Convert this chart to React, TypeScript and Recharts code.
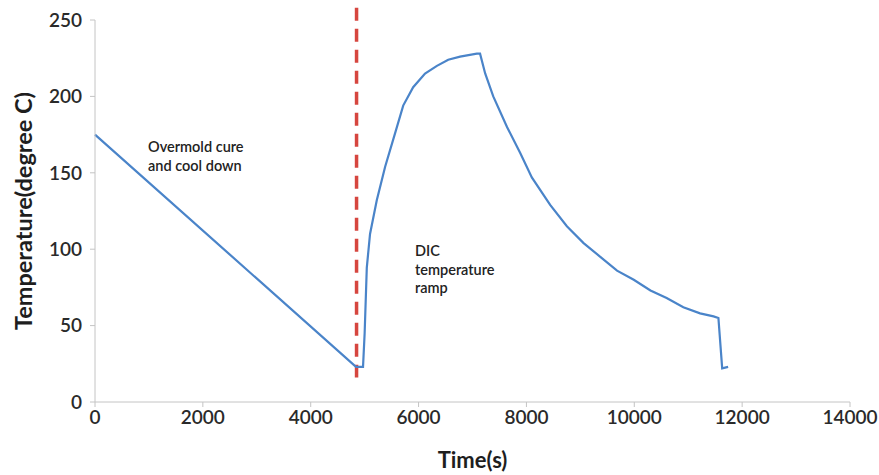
import { Line, LineChart, ReferenceLine, XAxis, YAxis, Label } from "recharts";

const timeS = [
  0, 4840, 4970, 5000, 5040, 5100, 5225, 5380, 5565, 5715, 5900, 6120, 6340, 6550, 6770, 7080, 7140,
  7235, 7385, 7640, 7885, 8100, 8440, 8750, 9060, 9370, 9680, 9990, 10300, 10600, 10910, 11220,
  11470, 11560, 11630, 11740,
];
const tempC = [
  175, 23, 23, 45, 88, 110, 132, 154, 176, 194, 206, 215, 220, 224, 226, 228, 228,
  215, 200, 180, 163, 147, 129, 115, 104, 95, 86, 80, 73, 68, 62, 58,
  56, 55, 22, 23,
];
const xTicks = [0, 2000, 4000, 6000, 8000, 10000, 12000, 14000];
const yTicks = [0, 50, 100, 150, 200, 250];
const dividerTime = 4850;

const data = timeS.map((t, i) => ({ t, temp: tempC[i] }));

const font = "Lato, 'Open Sans', sans-serif";
const tickStyle = { fontSize: 19, fontWeight: 600, fontFamily: font, fill: "#2a2a2a" };

export default function App() {
  return (
    <div style={{ position: "absolute", left: 0, top: 0, width: 879, height: 475, background: "#fff" }}>
      <LineChart width={879} height={475} data={data} margin={{ top: 20, right: 29, left: 0, bottom: 0 }}>
        <XAxis
          dataKey="t"
          type="number"
          domain={[0, 14000]}
          ticks={xTicks}
          height={73}
          tick={tickStyle}
          tickSize={5}
          tickMargin={4}
          stroke="#c4c4c4"
        >
          <Label value="Time(s)" position="insideBottom" offset={7} style={{ fontSize: 22, fontWeight: 700, fontFamily: font, fill: "#1e1e1e" }} />
        </XAxis>
        <YAxis
          type="number"
          domain={[0, 250]}
          ticks={yTicks}
          width={95}
          tick={tickStyle}
          tickSize={5}
          tickMargin={8}
          stroke="#c4c4c4"
        >
          <Label
            value="Temperature(degree C)"
            angle={-90}
            position="insideLeft"
            offset={24}
            style={{ textAnchor: "middle", fontSize: 23.5, fontWeight: 700, fontFamily: font, fill: "#1e1e1e" }}
          />
        </YAxis>
        <ReferenceLine
          segment={[{ x: dividerTime, y: 258 }, { x: dividerTime, y: 16 }]}
          stroke="#d6463f"
          strokeWidth={3.5}
          strokeDasharray="13 8"
          ifOverflow="visible"
        />
        <Line
          dataKey="temp"
          type="linear"
          stroke="#4a84c9"
          strokeWidth={2.2}
          dot={false}
          isAnimationActive={false}
        />
      </LineChart>
      <div style={{ position: "absolute", left: 148, top: 137, fontFamily: font, fontSize: 14.5, fontWeight: 600, lineHeight: "19px", color: "#222" }}>
        Overmold cure
        <br />
        and cool down
      </div>
      <div style={{ position: "absolute", left: 415, top: 242, fontFamily: font, fontSize: 14.5, fontWeight: 600, lineHeight: "18.5px", color: "#222" }}>
        DIC
        <br />
        temperature
        <br />
        ramp
      </div>
    </div>
  );
}
